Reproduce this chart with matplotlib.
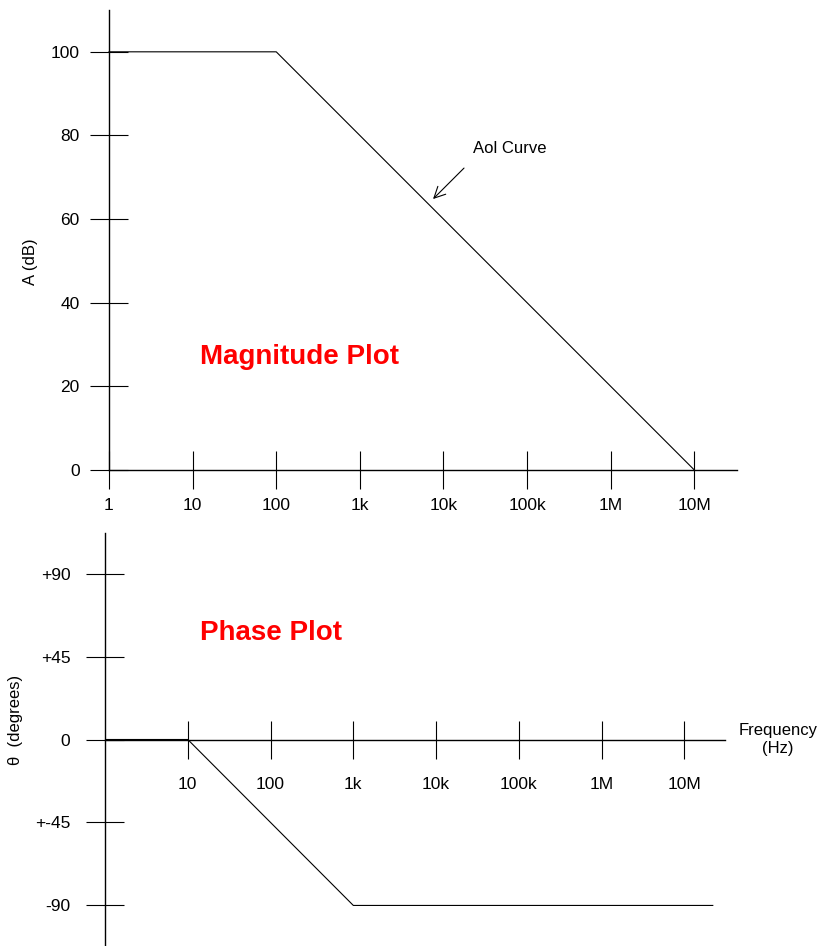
import matplotlib
matplotlib.use('Agg')
import matplotlib.pyplot as plt

plt.rcParams['font.family'] = ['Liberation Sans', 'DejaVu Sans']

# magnitude (open loop gain) data
mag_freq = [1, 100, 1e7]
mag_db = [100, 100, 0]
mag_xticks = [1, 10, 100, 1e3, 1e4, 1e5, 1e6, 1e7]
mag_xlabels = ['1', '10', '100', '1k', '10k', '100k', '1M', '10M']
mag_yticks = [0, 20, 40, 60, 80, 100]
mag_ylabels = ['0', '20', '40', '60', '80', '100']

# phase data
ph_freq = [1, 10, 1e3, 2.2e7]
ph_deg = [0, 0, -90, -90]
ph_xticks = [10, 100, 1e3, 1e4, 1e5, 1e6, 1e7]
ph_xlabels = ['10', '100', '1k', '10k', '100k', '1M', '10M']
ph_yticks = [90, 45, 0, -45, -90]
ph_ylabels = ['+90', '+45', '0', '+-45', '-90']

W, H = 820, 946
fig = plt.figure(figsize=(W/100, H/100), dpi=100)

def style(ax):
    for s in ['top', 'right']:
        ax.spines[s].set_visible(False)
    for s in ['left', 'bottom']:
        ax.spines[s].set_linewidth(1.0)
    ax.set_xscale('log')
    ax.minorticks_off()
    ax.tick_params(which='major', direction='inout', length=28, width=0.8,
                   labelsize=12.5, color='black')

# top: magnitude
ax1 = fig.add_axes([109/W, 1-470/H, 628/W, 460/H])
style(ax1)
ax1.plot(mag_freq, mag_db, color='black', lw=0.8, clip_on=False)
ax1.set_xlim(1, 10**7.51)
ax1.set_ylim(0, 110)
ax1.set_xticks(mag_xticks)
ax1.set_xticklabels(mag_xlabels)
ax1.set_yticks(mag_yticks)
ax1.set_yticklabels(mag_ylabels)
ax1.tick_params(axis='x', pad=6)
ax1.tick_params(axis='y', pad=7)
ax1.set_xlabel('Frequency (Hz)', fontsize=12)
ax1.xaxis.set_label_coords(0.447, -0.163)
ax1.set_ylabel('A (dB)', fontsize=12)
ax1.yaxis.set_label_coords(-0.113, 0.452)
ax1.text(12.3, 27, 'Magnitude Plot', color='red', fontsize=20,
         fontweight='bold', va='center', ha='left')
ax1.annotate('', xy=(7.5e3, 64.8), xytext=(1.76e4, 72.2),
             arrowprops=dict(arrowstyle='->', color='black', lw=0.8,
                             mutation_scale=20, shrinkA=0, shrinkB=0))
ax1.text(2.26e4, 77, 'Aol Curve', fontsize=12, va='center', ha='left')

# bottom: phase
ax2 = fig.add_axes([105/W, 0, 620/W, 413/H])
style(ax2)
ax2.spines['bottom'].set_position(('data', 0))
ax2.plot(ph_freq, ph_deg, color='black', lw=0.8)
ax2.set_xlim(1, 10**7.49)
ax2.set_ylim(-112, 112)
ax2.set_xticks(ph_xticks)
ax2.set_xticklabels(ph_xlabels)
ax2.set_yticks(ph_yticks)
ax2.set_yticklabels(ph_ylabels)
ax2.tick_params(axis='x', pad=13)
ax2.tick_params(axis='y', pad=11)
ax2.set_ylabel('\u03b8  (degrees)', fontsize=12)
ax2.yaxis.set_label_coords(-0.132, 0.547)
ax2.text(14, 58, 'Phase Plot', color='red', fontsize=20,
         fontweight='bold', va='center', ha='left')
ax2.text(10**8.13, 0, 'Frequency\n(Hz)', fontsize=12, ha='center',
         va='center', multialignment='center', clip_on=False)

fig.savefig('out.png', dpi=100)
